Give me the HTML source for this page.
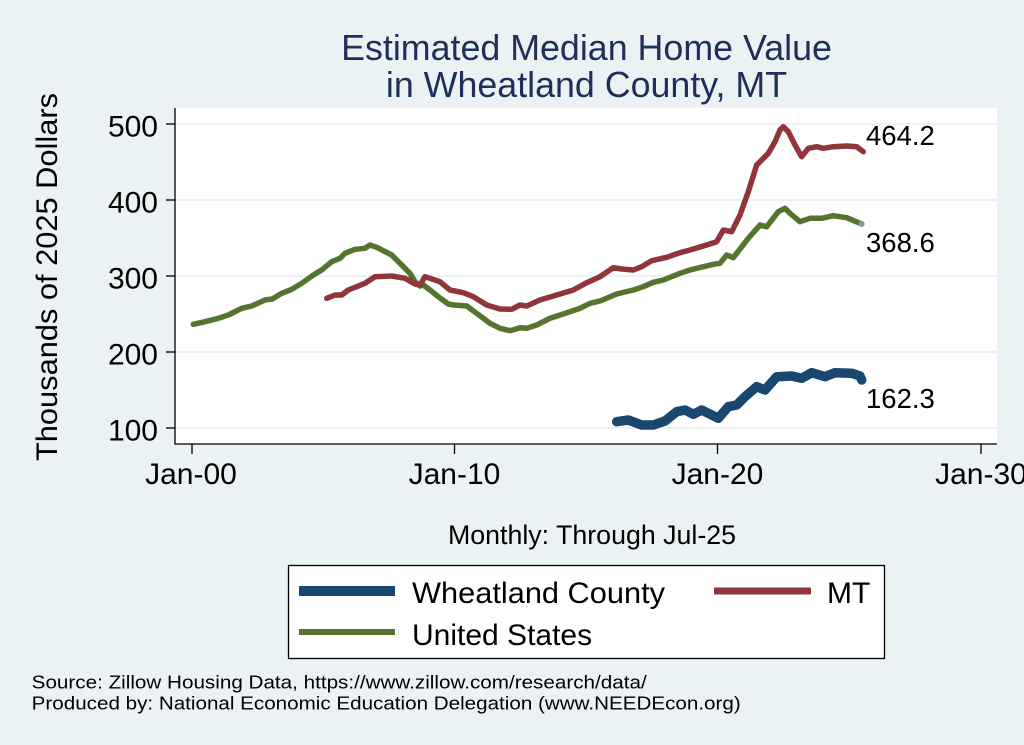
<!DOCTYPE html>
<html>
<head>
<meta charset="utf-8">
<style>
html,body{margin:0;padding:0;background:#EAF2F3;}
svg{display:block;}
text{font-family:"Liberation Sans",Arial,sans-serif;}
</style>
</head>
<body>
<svg width="1024" height="745" viewBox="0 0 1024 745" xmlns="http://www.w3.org/2000/svg">
<rect x="0" y="0" width="1024" height="745" fill="#EAF2F3"/>
<!-- title -->
<text x="586.5" y="60" font-size="35.8" fill="#1F2F5C" text-anchor="middle">Estimated Median Home Value</text>
<text x="586.5" y="97" font-size="35.8" fill="#1F2F5C" text-anchor="middle">in Wheatland County, MT</text>

<!-- plot region -->
<rect x="175" y="108" width="822" height="336" fill="#ffffff"/>
<g stroke="#EAF2F3" stroke-width="2">
<line x1="175" y1="124" x2="997" y2="124"/>
<line x1="175" y1="200" x2="997" y2="200"/>
<line x1="175" y1="276" x2="997" y2="276"/>
<line x1="175" y1="352" x2="997" y2="352"/>
<line x1="175" y1="428" x2="997" y2="428"/>
</g>

<!-- axes -->
<g stroke="#000" stroke-width="1.3" fill="none">
<line x1="175" y1="108" x2="175" y2="444.5"/>
<line x1="174.5" y1="444" x2="997" y2="444"/>
<line x1="166" y1="124" x2="175" y2="124"/>
<line x1="166" y1="200" x2="175" y2="200"/>
<line x1="166" y1="276" x2="175" y2="276"/>
<line x1="166" y1="352" x2="175" y2="352"/>
<line x1="166" y1="428" x2="175" y2="428"/>
<line x1="192" y1="444" x2="192" y2="454"/>
<line x1="454.5" y1="444" x2="454.5" y2="454"/>
<line x1="717.5" y1="444" x2="717.5" y2="454"/>
<line x1="981" y1="444" x2="981" y2="454"/>
</g>

<!-- y tick labels -->
<g font-size="30" text-anchor="end" fill="#000">
<text x="158" y="136.5">500</text>
<text x="158" y="212.5">400</text>
<text x="158" y="288.5">300</text>
<text x="158" y="364.5">200</text>
<text x="158" y="440.5">100</text>
</g>

<!-- x tick labels -->
<g font-size="30" text-anchor="middle" fill="#000">
<text x="191" y="484">Jan-00</text>
<text x="454.5" y="484">Jan-10</text>
<text x="717.5" y="484">Jan-20</text>
<text x="981" y="484">Jan-30</text>
</g>

<!-- axis titles -->
<text x="448" y="544" font-size="26.7" fill="#000" textLength="288" lengthAdjust="spacingAndGlyphs">Monthly: Through Jul-25</text>
<text transform="translate(57,461) rotate(-90)" x="0" y="0" font-size="30" fill="#000" textLength="368" lengthAdjust="spacingAndGlyphs">Thousands of 2025 Dollars</text>

<!-- series -->
<g fill="none" stroke-linejoin="round" stroke-linecap="round">
<polyline stroke="#55752F" stroke-width="5.5" points="193.3,324.3 205,321.7 218.3,318.3 228.3,315 241.7,308.3 251.7,306 265,300 272.3,299 281.7,293.3 291.7,289.3 301.7,283.3 313.3,275 321.7,270 331.7,261.7 340,258.3 345,253.3 355,249.3 365,248.3 370,245 376.7,247.3 391.7,255 401.7,265 410,273.3 415,281.7 420,286 423.3,285 430,290 438.3,296.7 448.3,304 453.3,305 466.7,306 476.7,313.3 490,323.3 500,328.3 510,330.7 520,327.7 526.7,328.3 536.7,325 550,318.3 563.3,314 580,308.3 590,303.3 600,301 616.7,294 633.3,290 643.3,286.7 653.3,282.3 663.3,280 680,273.3 690,270 703.3,266.7 715,264 720,263.3 726.7,255 733.3,257.7 748.3,238.3 760,225 766.7,226.7 778.3,211.7 785,208.3 790,213.3 800,221.7 810,218.3 821.7,218.3 833.3,215.7 846.7,217.7 861.7,224"/>
<polyline stroke="#90353B" stroke-width="5.5" points="326.7,298.3 335,295 341.7,295 348.3,290 365,283.3 375,276.7 391.7,276 405,278.3 415,284 420,285 425,276.7 435,280 440,281.7 450,290 463.3,292.7 473.3,296.7 486.7,305 500,309 511.7,309.3 520,305 526.7,306 540,300 556.7,295 573.3,290 586.7,282.7 600,276.7 613.3,267.7 621.7,269 633.3,270 641.7,266.7 651.7,260.7 666.7,257.3 680,252.7 690,250 703.3,246 716.7,241.7 723.3,230 731.7,231.7 740,215 748.3,191.7 756.7,165 761.7,160 768.3,153.3 775,141.7 780,130 783.3,126.7 788.3,131.7 795,145 801.7,156.7 808.3,148.3 816.7,146.7 823.3,148.3 833.3,146.7 846.7,146 856.7,146.7 863.3,151.7"/>
<polyline stroke="#1A476F" stroke-width="9.5" points="616.7,421.7 628.3,420 641.7,425 653.3,425 665,421 676.7,411.7 685,410 693.3,414.3 701.7,410 718.3,418.3 728.3,406.7 736.7,405 745,396.7 756.7,386.7 765,390 776.7,376.7 791.7,376 801.7,378.3 811.7,372.7 825,376.7 835,372.7 851.7,373.3 860,376 861.7,380"/>
</g>
<circle cx="861.7" cy="224" r="3" fill="#7E9C98"/>

<!-- value labels -->
<g font-size="27.5" fill="#000">
<text x="866" y="145">464.2</text>
<text x="866" y="252">368.6</text>
<text x="866" y="408">162.3</text>
</g>

<!-- legend -->
<rect x="288.5" y="565.5" width="596" height="93" fill="#ffffff" stroke="#000" stroke-width="1.3"/>
<line x1="299" y1="591" x2="395" y2="591" stroke="#1A476F" stroke-width="10"/>
<line x1="299" y1="632" x2="395" y2="632" stroke="#55752F" stroke-width="6"/>
<line x1="714" y1="591" x2="811" y2="591" stroke="#90353B" stroke-width="7"/>
<g font-size="30" fill="#000">
<text x="412" y="603" textLength="253" lengthAdjust="spacingAndGlyphs">Wheatland County</text>
<text x="412" y="645">United States</text>
<text x="827" y="603">MT</text>
</g>

<!-- footer -->
<g font-size="18.5" fill="#000">
<text x="31.7" y="688.3" textLength="615" lengthAdjust="spacingAndGlyphs">Source: Zillow Housing Data, https://www.zillow.com/research/data/</text>
<text x="31.7" y="709.3" textLength="709" lengthAdjust="spacingAndGlyphs">Produced by: National Economic Education Delegation (www.NEEDEcon.org)</text>
</g>
</svg>
</body>
</html>
